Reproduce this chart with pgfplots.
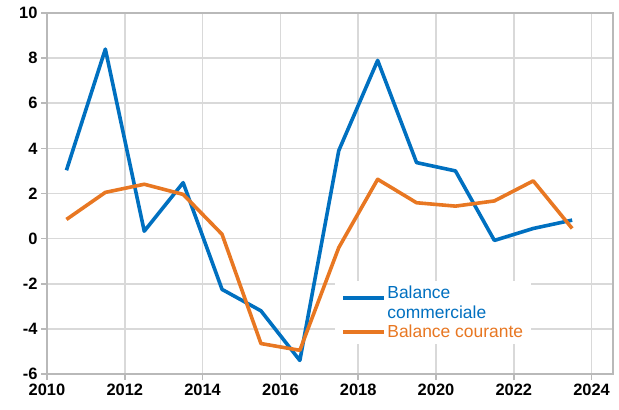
\documentclass[border=0pt]{standalone}
\usepackage{pgfplots}
\pgfplotsset{compat=1.18}
\usepackage{fontspec}
\setmainfont{Liberation Sans}
\definecolor{cblue}{RGB}{0,112,192}
\definecolor{corange}{RGB}{232,119,34}
\definecolor{gridc}{RGB}{217,217,217}
\definecolor{axc}{RGB}{185,185,185}
\pgfplotsset{
  legblue/.style={legend image code/.code={\draw[##1] (0bp,5bp) -- (41bp,5bp);}},
  legorange/.style={legend image code/.code={\draw[##1] (0bp,0bp) -- (41bp,0bp);}},
}
\begin{document}
\begin{tikzpicture}[x=1bp,y=1bp]
\path[use as bounding box] (-47bp,-36bp) rectangle (572bp,374bp);
\begin{axis}[
  at={(0,0)}, anchor=south west,
  scale only axis, width=566bp, height=361bp,
  xmin=2010, xmax=2024.55, ymin=-6, ymax=10,
  xtick={2010,2012,...,2024},
  xticklabels={2010,2012,2014,2016,2018,2020,2022,2024},
  ytick={-6,-4,...,10},
  yticklabels={-6,-4,-2,0,2,4,6,8,10},
  xtick pos=bottom, ytick pos=left,
  tick align=outside,
  major tick length=6bp,
  tick style={axc, line width=1.6bp},
  grid=major,
  major grid style={gridc, line width=1.6bp},
  axis line style={axc, line width=2bp},
  ticklabel style={font=\fontsize{16.5}{19}\selectfont\bfseries, text=black},
  legend style={at={(0.509,0.257)}, anchor=north west, draw=none, fill=white,
    inner xsep=6bp, inner ysep=3bp,
    font=\fontsize{17.5}{20}\selectfont,
    nodes={align=left, inner sep=1.5bp},
    row sep=2bp},
  legend cell align=left,
]
\addplot[cblue, line width=3.6bp, line join=round, legblue]
coordinates {
(2010.5,3.03) (2011.5,8.4) (2012.5,0.33) (2013.5,2.48) (2014.5,-2.25)
(2015.5,-3.2) (2016.5,-5.4) (2017.5,3.9) (2018.5,7.9) (2019.5,3.37)
(2020.5,3.0) (2021.5,-0.08) (2022.5,0.45) (2023.5,0.82)
};
\addlegendentry[text=cblue]{Balance\\commerciale}
\addplot[corange, line width=3.6bp, line join=round, legorange]
coordinates {
(2010.5,0.85) (2011.5,2.05) (2012.5,2.41) (2013.5,1.96) (2014.5,0.19)
(2015.5,-4.65) (2016.5,-4.95) (2017.5,-0.4) (2018.5,2.63) (2019.5,1.59)
(2020.5,1.44) (2021.5,1.67) (2022.5,2.56) (2023.5,0.45)
};
\addlegendentry[text=corange]{Balance courante}
\end{axis}
\end{tikzpicture}
\end{document}
